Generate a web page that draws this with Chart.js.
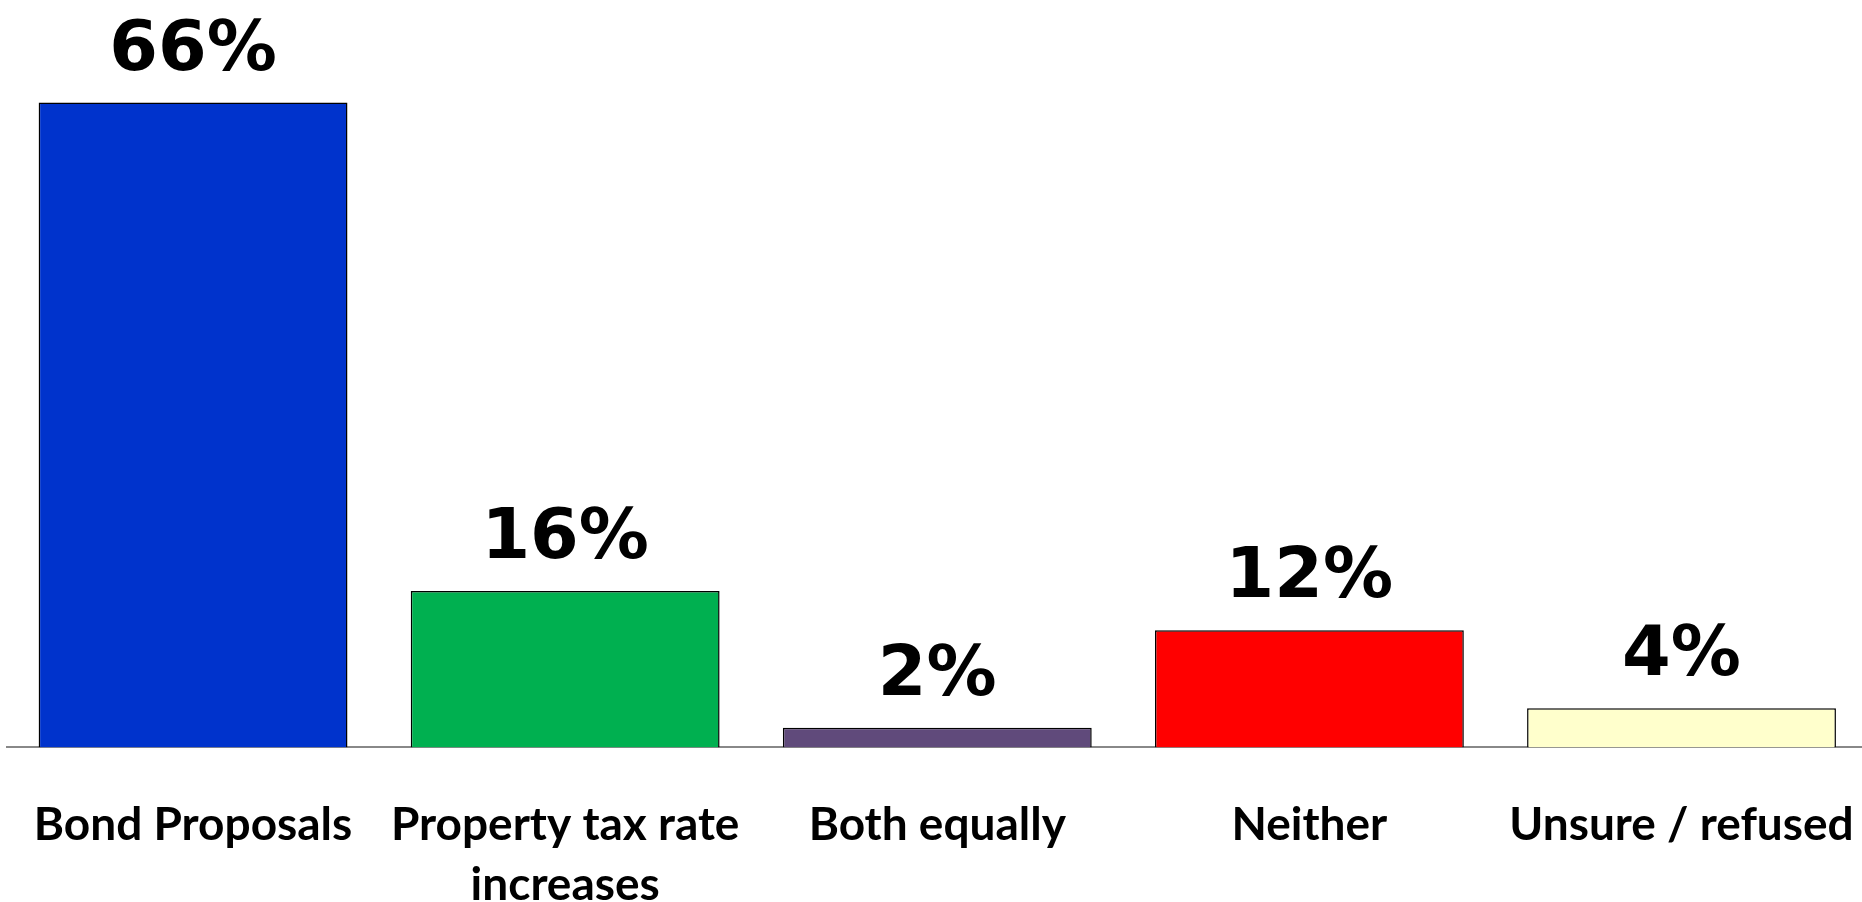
<!DOCTYPE html>
<html>
<head>
<meta charset="utf-8">
<script src="https://cdn.jsdelivr.net/npm/chart.js@4"></script>
<style>
    html, body { margin: 0; padding: 0; background: #fff; overflow: hidden; }
    #wrap { width: 1897px; height: 968px; margin-left: -4px; }
</style>
</head>
<body>
<div id="wrap"><canvas id="barChart" width="1897" height="968"></canvas></div>
<script>
// dados do gráfico
const categorias = ['Bond Proposals', ['Property tax rate', 'increases'], 'Both equally', 'Neither', 'Unsure / refused'];
const valores = [66, 16, 2, 12, 4];
const cores = ['#0033CC', '#00B050', '#604A7B', '#FF0000', '#FFFFCC'];

// rótulos de porcentagem em cima das barras
const rotulosPlugin = {
    id: 'rotulos',
    afterDatasetsDraw(chart) {
        const ctx = chart.ctx;
        const meta = chart.getDatasetMeta(0);
        ctx.save();
        ctx.fillStyle = '#000';
        ctx.font = 'bold 70px "DejaVu Sans"';
        ctx.textAlign = 'center';
        ctx.textBaseline = 'alphabetic';
        meta.data.forEach((bar, i) => {
            ctx.fillText(valores[i] + '%', bar.x, bar.y - 33);
        });
        ctx.restore();
    }
};

const ctx = document.getElementById('barChart').getContext('2d');
new Chart(ctx, {
    type: 'bar',
    data: {
        labels: categorias,
        datasets: [{
            data: valores,
            backgroundColor: cores,
            borderColor: '#000',
            borderWidth: 1.5,
            barPercentage: 0.83,
            categoryPercentage: 1
        }]
    },
    options: {
        responsive: false,
        animation: false,
        layout: { padding: { left: 4, right: 0, top: 0, bottom: 13 } },
        plugins: { legend: { display: false }, tooltip: { enabled: false } },
        scales: {
            x: {
                grid: { display: false },
                border: { display: true, color: '#888', width: 2 },
                ticks: {
                    color: '#000',
                    font: { family: 'Lato', weight: 'bold', size: 46, lineHeight: 1.3 },
                    padding: 40,
                    maxRotation: 0,
                    autoSkip: false
                }
            },
            y: {
                display: false,
                min: 0,
                max: 76.5
            }
        }
    },
    plugins: [rotulosPlugin]
});
</script>
</body>
</html>
